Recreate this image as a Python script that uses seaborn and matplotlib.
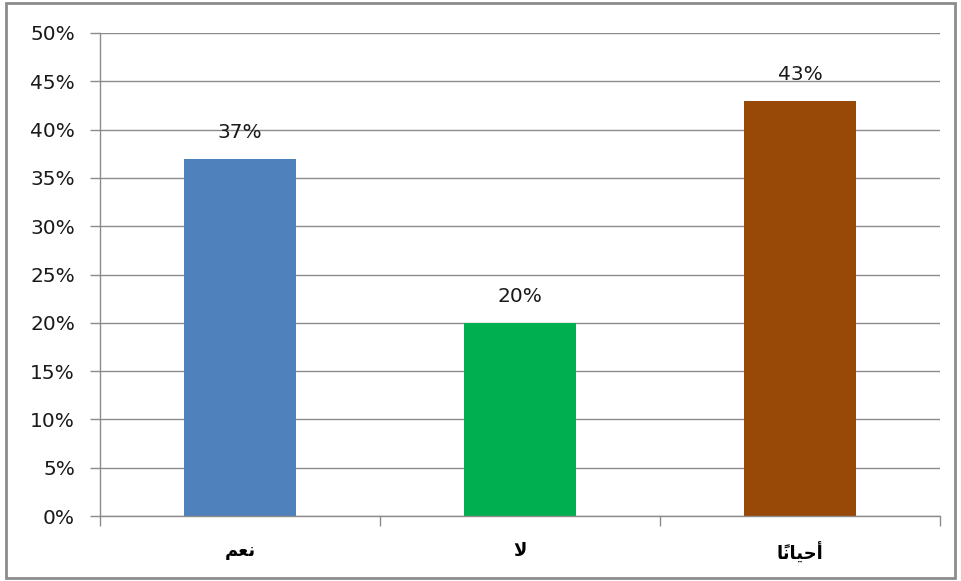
import matplotlib
matplotlib.use("Agg")
import matplotlib.pyplot as plt
import seaborn as sns
import pandas as pd
from matplotlib.patches import Rectangle
from matplotlib.ticker import FixedLocator

# Data
categories_logical = ["نعم", "لا", "أحياناً"]
# Pre-shaped visual forms (matplotlib has no Arabic shaping / bidi)
categories_display = ["\uFEE2\uFECC\uFEE7", "\uFEFB", "\uFE8E\u064B\uFEE7\uFE8E\uFEF4\uFEA3\uFE83"]
values = [37, 20, 43]
colors = ["#4F81BD", "#00B050", "#984807"]
y_ticks = [0, 5, 10, 15, 20, 25, 30, 35, 40, 45, 50]

sns.set_theme(style="white")
plt.rcParams['font.family'] = ['DejaVu Sans']

df = pd.DataFrame({"cat": categories_display, "val": values})

fig = plt.figure(figsize=(9.62, 5.81), dpi=100)
ax = fig.add_axes([100/962, 1-516/581, 840/962, (516-33)/581])

sns.barplot(data=df, x="cat", y="val", hue="cat", palette=colors, legend=False,
            width=0.4, ax=ax, saturation=1, edgecolor="none")

ax.set_ylim(0, 50)
ax.set_xlim(-0.5, 2.5)
ax.yaxis.set_major_locator(FixedLocator(y_ticks))
ax.set_yticklabels([f"{t}%" for t in y_ticks], fontsize=14.5, color="#1a1a1a")
ax.yaxis.grid(True, color="#8c8c8c", linewidth=1.0)
ax.set_axisbelow(True)
ax.set_xlabel("")
ax.set_ylabel("")

ax.set_xticks(range(len(categories_display)))
ax.set_xticklabels(categories_display, fontsize=13, fontweight="bold", color="black")
ax.xaxis.set_minor_locator(FixedLocator([-0.5, 0.5, 1.5, 2.5]))
ax.tick_params(axis="x", which="major", length=0, pad=19)
ax.tick_params(axis="x", which="minor", length=7, width=1, color="#8c8c8c", direction="out", bottom=True)
ax.tick_params(axis="y", which="major", length=7, width=1, color="#8c8c8c", direction="out", left=True, pad=11)

for s in ["top", "right"]:
    ax.spines[s].set_visible(False)
for s in ["left", "bottom"]:
    ax.spines[s].set_color("#8c8c8c")
    ax.spines[s].set_linewidth(1.0)

for i, v in enumerate(values):
    ax.annotate(f"{v}%", (i, v), xytext=(0, 12), textcoords="offset points",
                ha="center", va="bottom", fontsize=14.5, color="#1a1a1a")

fig.patches.append(Rectangle((6/962, 3/581), (955-6)/962, (578-3)/581,
                             transform=fig.transFigure, fill=False,
                             edgecolor="#8c8c8c", linewidth=2))

fig.savefig("out.png", dpi=100, facecolor="white")
